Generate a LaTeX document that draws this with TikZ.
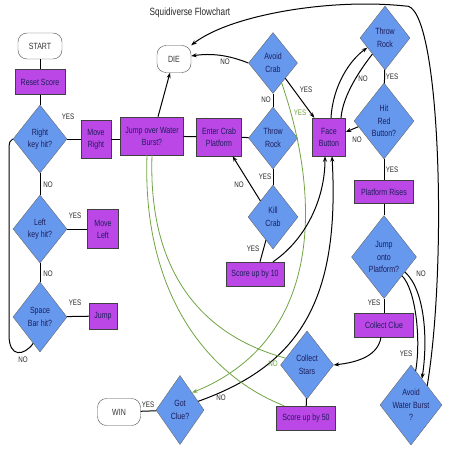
\documentclass[tikz,border=0pt]{standalone}
\usepackage{fontspec}
\setmainfont[FakeStretch=0.78]{Liberation Sans}
\usetikzlibrary{shapes.geometric,calc,arrows.meta}

\definecolor{boxpurple}{RGB}{187,72,230}
\definecolor{diablue}{RGB}{102,153,238}
\definecolor{inkblue}{RGB}{28,28,90}
\definecolor{flowgreen}{RGB}{112,163,66}

\begin{document}
\begin{tikzpicture}[x=1pt,y=-1pt,>={Stealth[length=5.5pt,width=4pt]},
	proc/.style={draw=black!75,fill=boxpurple,text=inkblue,inner sep=0pt,align=center,font=\fontsize{9}{12}\selectfont},
	deci/.style={diamond,aspect=0.77,draw=black!60,fill=diablue,text=inkblue,inner sep=0pt,align=center,font=\fontsize{9}{12.5}\selectfont},
	term/.style={draw=black!70,rounded corners=9pt,text=black!80,font=\fontsize{9}{11}\selectfont},
	lbl/.style={text=black!85,inner sep=0pt,font=\fontsize{8}{9}\selectfont},
	glbl/.style={lbl,text=flowgreen},
	flow/.style={line width=1pt,black},
	gflow/.style={line width=0.8pt,flowgreen}]
		\useasboundingbox (0,0) rectangle (452,452);
		
		\node[lbl,font=\fontsize{10.5}{12}\selectfont] (title) at (190,13) {Squidiverse Flowchart};
		
		% left column
		\node[term,minimum width=44pt,minimum height=26pt] (start) at (40,46) {START};
		\node[proc,minimum width=50pt,minimum height=25pt] (reset) at (40,82) {Reset Score};
		\node[deci,minimum width=54pt,minimum height=68pt] (right) at (40,139) {Right\\key hit?};
		\node[deci,minimum width=54pt,minimum height=68pt] (left) at (40,229) {Left\\key hit?};
		\node[deci,minimum width=54pt,minimum height=70pt] (space) at (40,317) {Space\\Bar hit?};
		\node[proc,minimum width=30pt,minimum height=38pt] (mright) at (96,139) {Move\\Right};
		\node[proc,minimum width=31pt,minimum height=39pt] (mleft) at (103,229) {Move\\Left};
		\node[proc,minimum width=28pt,minimum height=26pt] (jump) at (103,316) {Jump};
		
		% crab part
		\node[proc,minimum width=63pt,minimum height=38pt] (jover) at (152,136) {Jump over Water\\Burst?};
		\node[term,minimum width=34pt,minimum height=27pt] (die) at (174,59) {DIE};
		\node[proc,minimum width=45pt,minimum height=38pt] (enter) at (219,137) {Enter Crab\\Platform};
		\node[deci,minimum width=49pt,minimum height=61pt] (avoid) at (273,63) {Avoid\\Crab};
		\node[deci,minimum width=49pt,minimum height=62pt] (throwl) at (273,138) {Throw\\Rock};
		\node[deci,minimum width=50pt,minimum height=64pt] (kill) at (273,217) {Kill\\Crab};
		\node[proc,minimum width=58pt,minimum height=24pt] (score10) at (255,274) {Score up by 10};
		\node[proc,minimum width=33pt,minimum height=38pt] (face) at (329,137) {Face\\Button};
		
		% right column
		\node[deci,minimum width=50pt,minimum height=64pt] (throwr) at (385,38) {Throw\\Rock};
		\node[deci,minimum width=60pt,minimum height=76pt] (hit) at (384,121) {Hit\\Red\\Button?};
		\node[proc,minimum width=59pt,minimum height=23pt] (rises) at (384,192) {Platform Rises};
		\node[deci,minimum width=65pt,minimum height=83pt] (jonto) at (384,257) {Jump\\onto\\Platform?};
		\node[proc,minimum width=59pt,minimum height=24pt] (clue) at (384,325) {Collect Clue};
		\node[deci,minimum width=62pt,minimum height=80pt] (avoidw) at (411,405) {Avoid\\Water Burst\\?};
		
		% bottom
		\node[deci,minimum width=53pt,minimum height=68pt] (stars) at (307,365) {Collect\\Stars};
		\node[proc,minimum width=59pt,minimum height=24pt] (score50) at (306,418) {Score up by 50};
		\node[deci,minimum width=48pt,minimum height=69pt] (got) at (180,410) {Got\\Clue?};
		\node[term,minimum width=43pt,minimum height=27pt] (win) at (119,412) {WIN};
		
		% keys
		\draw[flow] (start) -- (reset);
		\draw[flow] (reset) -- (right);
		\draw[flow] (right) -- (mright); \node[lbl] (yright) at (68,117) {YES};
		\draw[flow] (right) -- (left); \node[lbl] (nright) at (48,185) {NO};
		\draw[flow] (left) -- (mleft); \node[lbl] (yleft) at (75,216) {YES};
		\draw[flow] (left) -- (space); \node[lbl] (nleft) at (48,274) {NO};
		\draw[flow] (space) -- (jump); \node[lbl] (yspace) at (75,303) {YES};
		\draw[flow] ($(space.west)!0.75!(space.south)$) .. controls (24,356) and (9,358) .. (9,335) -- (9,150) .. controls (9,142) and (10,140) .. (right.west); \node[lbl] (nspace) at (23,360) {NO};
		
		% crab
		\draw[flow] (mright) -- (mright -| jover.west);
		\draw[flow] (jover) -- (enter);
		\draw[flow] (enter) -- (throwl);
		\draw[flow,->] ([xshift=6pt]jover.north) -- ([xshift=-4pt]die.south);
		\draw[flow,->] (avoid.west) .. controls +(-20,-8) and +(20,-3) .. ([yshift=3pt]die.east); \node[lbl] (navoid) at (225,62) {NO};
		\draw[flow,->] (avoid.south east) -- ([xshift=2pt]face.north west); \node[lbl] (yavoid) at (306,90) {YES};
		\draw[flow] (avoid) -- (throwl); \node[lbl] (navoid2) at (266,100) {NO};
		\draw[gflow,->] ($(avoid.south east)!0.3!(avoid.south)$) .. controls (322,200) and (322,340) .. (got.north east); \node[glbl] (gyavoid) at (300,113) {YES};
		\draw[flow] (throwl) -- (kill); \node[lbl] (ythrowl) at (265,177) {YES};
		\draw[flow,->] (kill.north west) -- ($(enter.south)!0.6!(enter.south east)$); \node[lbl] (nkill) at (239,185) {NO};
		\draw[flow] ($(kill.south)!0.28!(kill.west)$) -- ([xshift=5pt]score10.north); \node[lbl] (ykill) at (253,249) {YES};
		\draw[flow,->] ([xshift=18pt]score10.north) .. controls (305,240) and (325,200) .. ([xshift=-4pt]face.south);
		\draw[flow,->] ($(got.east)!0.25!(got.north)$) .. controls (300,365) and (340,300) .. ([xshift=3pt]face.south); \node[lbl] (ngot) at (221,398) {NO};
		
		% rock and button
		\draw[flow,->] ([xshift=2pt]face.north) .. controls (333,85) and (350,60) .. ($(throwr.west)!0.3!(throwr.south)$);
		\draw[flow] ($(throwr.west)!0.5!(throwr.south)$) .. controls (360,70) and (343,95) .. ([xshift=12pt]face.north); \node[lbl] (nthrowr) at (363,79) {NO};
		\draw[flow] (throwr) -- (hit); \node[lbl] (ythrowr) at (392,77) {YES};
		\draw[flow,->] ($(hit.west)!0.15!(hit.south)$) -- ([yshift=5pt]face.east); \node[lbl] (nhit) at (357,140) {NO};
		\draw[flow] (hit) -- (rises); \node[lbl] (yhit) at (392,170) {YES};
		\draw[flow] (rises) -- (jonto);
		\draw[flow] (jonto) -- (clue); \node[lbl] (yjonto) at (374,303) {YES};
		\draw[flow,->] ($(jonto.east)!0.36!(jonto.south)$) .. controls (425,290) and (428,340) .. ($(avoidw.north)!0.35!(avoidw.east)$); \node[lbl] (njonto) at (421,274) {NO};
		\draw[flow] ($(avoidw.north)!0.15!(avoidw.east)$) .. controls (421,340) and (416,290) .. ($(jonto.east)!0.45!(jonto.south)$); \node[lbl] (yavoidw) at (406,354) {YES};
		\draw[flow,->] ($(avoidw.north)!0.52!(avoidw.east)$) .. controls (448,260) and (440,0) .. (405,6) .. controls (330,-2) and (230,15) .. (die.north east);
		
		% stars
		\draw[flow,->] ([xshift=-3pt]clue.south) .. controls (378,355) and (360,362) .. (stars.east);
		\draw[flow] (stars) -- (score50);
		\draw[gflow] ($(stars.west)!0.2!(stars.north)$) .. controls (200,335) and (148,270) .. (jover.south); \node[glbl] (nstars) at (273,364) {NO};
		\draw[gflow] ([xshift=8pt]score50.north west) .. controls (205,375) and (142,290) .. ([xshift=-5pt]jover.south);
		\draw[flow] (got) -- (win); \node[lbl] (ygot) at (148,405) {YES};
		
	\end{tikzpicture}
\end{document}
